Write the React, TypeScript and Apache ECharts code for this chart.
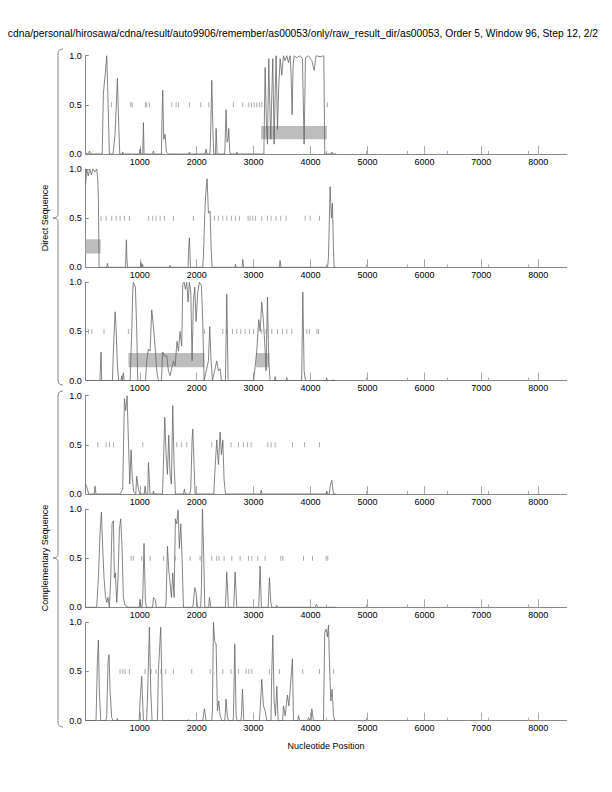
import React, { useEffect, useRef } from "react";
import * as echarts from "echarts";

const TITLE =
  "cdna/personal/hirosawa/cdna/result/auto9906/remember/as00053/only/raw_result_dir/as00053, Order 5, Window 96, Step 12, 2/2";
const X_LABEL = "Nucleotide Position";
const GROUP_LABELS = ["Direct Sequence", "Complementary Sequence"];
const X_TICKS = [1000, 2000, 3000, 4000, 5000, 6000, 7000, 8000];
const X_MINOR_TICKS = [4268, 4980, 5692, 6404, 7116, 7828];
const Y_TICKS = [0, 0.5, 1.0];
const X_MIN = 50;
const X_MAX = 8500;

const signal1 = [
  [50, 0.01], [100, 0], [115, 0.03], [140, 0], [340, 0], [361, 0.62], [396, 0.83], [419, 1.0], [435, 0.7], [466, 0],
  [530, 0], [566, 0.2], [607, 0.77], [630, 0.3], [648, 0], [690, 0], [700, 0.02], [710, 0], [990, 0], [1005, 0.05],
  [1020, 0], [1052, 0], [1064, 0.32], [1075, 0], [1225, 0], [1239, 0.03], [1255, 0], [1380, 0], [1392, 0.4],
  [1403, 0.65], [1421, 0.15], [1445, 0.2], [1468, 0.02], [1500, 0], [1860, 0], [1872, 0.02], [1885, 0], [2150, 0],
  [2165, 0.05], [2180, 0], [2230, 0], [2241, 0.1], [2265, 0.75], [2282, 0.3], [2300, 0], [2330, 0], [2341, 0.26],
  [2358, 0], [2493, 0], [2516, 0.45], [2534, 0.12], [2552, 0.15], [2563, 0.26], [2581, 0.02], [2600, 0], [2690, 0],
  [2704, 0.02], [2720, 0], [3180, 0], [3202, 0.88], [3225, 0.3], [3243, 0.1], [3266, 0.97], [3284, 0.5], [3302, 0.15],
  [3319, 0.6], [3337, 0.97], [3360, 0.1], [3378, 0.6], [3395, 1.0], [3419, 0.25], [3442, 0.7], [3466, 0.97],
  [3495, 0.8], [3524, 1.0], [3553, 0.95], [3583, 1.0], [3612, 0.93], [3641, 1.0], [3659, 0.8], [3676, 0.4],
  [3694, 0.9], [3711, 1.0], [3758, 0.98], [3817, 1.0], [3858, 0.97], [3887, 0.1], [3911, 0.98], [3963, 1.0],
  [4022, 0.95], [4063, 0.85], [4098, 1.0], [4168, 0.99], [4233, 1.0], [4250, 0], [4360, 0], [4373, 0.02], [4390, 0],
  [4450, 0],
];
const signal2 = [
  [50, 0.85], [68, 1.0], [95, 0.93], [120, 1.0], [150, 0.94], [175, 1.0], [210, 0.97], [244, 1.0], [261, 0.9],
  [273, 0.7], [285, 0], [420, 0], [431, 0.04], [445, 0], [750, 0], [765, 0.28], [775, 0.07], [785, 0], [1010, 0],
  [1020, 0.05], [1035, 0], [1045, 0], [1050, 0.03], [1060, 0], [1520, 0], [1530, 0.02], [1545, 0], [1850, 0],
  [1855, 0.15], [1872, 0.3], [1890, 0], [2105, 0], [2118, 0.1], [2142, 0.55], [2159, 0.75], [2183, 0.9],
  [2206, 0.55], [2235, 0.57], [2253, 0.2], [2270, 0], [2670, 0], [2680, 0.03], [2690, 0], [2795, 0], [2809, 0.08],
  [2825, 0], [3450, 0], [3465, 0.07], [3480, 0], [4300, 0], [4315, 0.1], [4344, 0.82], [4367, 0.5], [4385, 0.65],
  [4402, 0.2], [4414, 0], [4450, 0],
];
const signal3 = [
  [50, 0], [300, 0], [320, 0.29], [330, 0], [520, 0], [536, 0.3], [566, 0.7], [583, 0.55], [607, 0.15], [630, 0],
  [670, 0], [683, 0.05], [695, 0], [705, 0], [712, 0.08], [725, 0], [830, 0], [859, 0.5], [876, 0.9], [888, 1.0],
  [923, 0.95], [947, 0.5], [964, 0], [1100, 0], [1122, 0.2], [1152, 0.32], [1181, 0.3], [1210, 0.72], [1240, 0.55],
  [1269, 0.35], [1298, 0.1], [1327, 0], [1380, 0], [1403, 0.29], [1433, 0.25], [1474, 0.25], [1503, 0.1],
  [1532, 0.05], [1591, 0.2], [1620, 0.15], [1655, 0.4], [1679, 0.3], [1708, 0.5], [1737, 0.35], [1755, 0.98],
  [1778, 1.0], [1802, 0.93], [1825, 1.0], [1849, 0.8], [1872, 1.0], [1896, 0.9], [1919, 0.2], [1942, 0.8],
  [1966, 0.95], [1989, 0.6], [2019, 0.9], [2048, 1.0], [2083, 0.97], [2106, 0.6], [2130, 0], [2206, 0.2],
  [2229, 0.55], [2253, 0.2], [2276, 0], [2352, 0.2], [2382, 0.1], [2411, 0.12], [2434, 0], [2505, 0], [2528, 0.88],
  [2552, 0], [3000, 0], [3055, 0.3], [3090, 0.62], [3114, 0.5], [3143, 0.8], [3173, 0.6], [3202, 0.3], [3219, 0.1],
  [3243, 0.85], [3266, 0.2], [3290, 0], [3365, 0], [3378, 0.04], [3390, 0], [3570, 0], [3583, 0.03], [3595, 0],
  [3840, 0], [3846, 0.1], [3864, 0.9], [3887, 0.1], [3911, 0], [4270, 0], [4285, 0.02], [4300, 0], [4390, 0],
  [4400, 0.01], [4410, 0], [4450, 0],
];
const signal4 = [
  [50, 0.1], [80, 0.05], [103, 0], [200, 0], [214, 0.08], [230, 0], [650, 0], [700, 0.05], [730, 0.97], [753, 0.85],
  [777, 1.0], [800, 0.55], [824, 0.1], [847, 0.45], [870, 0.15], [894, 0.02], [930, 0], [946, 0.18], [976, 0.05],
  [1000, 0], [1080, 0], [1093, 0.08], [1110, 0], [1140, 0], [1152, 0.32], [1181, 0], [1230, 0], [1240, 0.03],
  [1255, 0], [1400, 0], [1415, 0.3], [1439, 0.78], [1462, 0.4], [1486, 0.2], [1509, 0.6], [1532, 0.2], [1556, 0.1],
  [1579, 0.9], [1603, 0.3], [1626, 0], [1770, 0], [1784, 0.05], [1800, 0], [1880, 0], [1896, 0.05], [1919, 0.55],
  [1931, 0.66], [1954, 0.3], [1972, 0], [2300, 0], [2317, 0.2], [2352, 0.55], [2382, 0.3], [2411, 0.63],
  [2434, 0.4], [2458, 0.55], [2481, 0.15], [2505, 0], [3120, 0], [3132, 0.04], [3150, 0], [4270, 0], [4285, 0.03],
  [4300, 0], [4330, 0], [4344, 0.08], [4373, 0.14], [4403, 0], [4450, 0],
];
const signal5 = [
  [50, 0], [243, 0], [273, 0.3], [302, 0.75], [326, 0.97], [349, 0.6], [372, 0.3], [396, 0.12], [419, 0.05],
  [443, 0.1], [466, 0], [490, 0.3], [513, 0.85], [537, 0.88], [554, 0.3], [572, 0.35], [595, 0.05], [619, 0.3],
  [642, 0.8], [665, 0.9], [689, 0.6], [712, 0.1], [741, 0.02], [800, 0], [990, 0], [1005, 0.08], [1020, 0],
  [1040, 0], [1052, 0.1], [1075, 0.65], [1099, 0.05], [1120, 0], [1225, 0], [1240, 0.1], [1269, 0.08], [1290, 0],
  [1450, 0], [1462, 0.05], [1486, 0.62], [1509, 0.38], [1532, 0.25], [1556, 0.1], [1579, 0.35], [1603, 0.1],
  [1626, 0.9], [1650, 0.85], [1673, 0.99], [1696, 0.6], [1720, 0.85], [1743, 0.5], [1767, 0], [1930, 0],
  [1942, 0.05], [1966, 0.2], [1989, 0.15], [2013, 0], [2070, 0], [2083, 0.2], [2101, 1.0], [2124, 0.5], [2142, 0],
  [2210, 0], [2224, 0.1], [2247, 0], [2505, 0], [2528, 0.36], [2557, 0], [2650, 0], [2675, 0.36], [2704, 0],
  [3090, 0], [3114, 0.42], [3137, 0], [3255, 0], [3278, 0.3], [3302, 0.05], [3320, 0], [3395, 0], [3407, 0.02],
  [3420, 0], [4085, 0], [4100, 0.03], [4130, 0], [4450, 0],
];
const signal6 = [
  [50, 0], [232, 0], [255, 0.6], [273, 0.82], [290, 0.3], [314, 0], [405, 0], [419, 0.05], [443, 0.6], [460, 0.67],
  [478, 0.3], [507, 0.03], [530, 0], [595, 0], [607, 0.02], [620, 0], [990, 0], [1005, 0.2], [1034, 0.45],
  [1064, 0], [1120, 0], [1134, 0.2], [1169, 0.95], [1193, 0.3], [1216, 0], [1310, 0], [1327, 0.5], [1368, 0.95],
  [1403, 0], [1840, 0], [1855, 0.01], [1870, 0], [2105, 0], [2118, 0.05], [2136, 0.12], [2165, 0], [2265, 0],
  [2276, 0.1], [2294, 1.0], [2317, 0.8], [2341, 0.78], [2364, 0.1], [2388, 0.2], [2411, 0.05], [2440, 0],
  [2490, 0], [2499, 0.05], [2516, 0.22], [2540, 0.03], [2560, 0], [2635, 0], [2645, 0.03], [2669, 0.78],
  [2692, 0.05], [2710, 0], [2775, 0], [2786, 0.05], [2804, 0.32], [2827, 0], [3100, 0], [3114, 0.1], [3143, 0.42],
  [3173, 0.15], [3202, 0.1], [3231, 0], [3305, 0], [3319, 0.5], [3337, 0.87], [3360, 0.2], [3384, 0.05],
  [3407, 0.35], [3431, 0], [3510, 0], [3524, 0.15], [3553, 0.05], [3594, 0.26], [3618, 0.15], [3641, 0.3],
  [3665, 0.5], [3682, 0.63], [3700, 0], [3775, 0], [3788, 0.05], [3810, 0], [3950, 0], [3963, 0.03], [3990, 0],
  [4010, 0], [4022, 0.12], [4051, 0], [4227, 0], [4250, 0.9], [4274, 0.93], [4297, 0.85], [4315, 0.97],
  [4332, 0.6], [4356, 0.2], [4379, 0.32], [4403, 0.05], [4426, 0], [4450, 0],
];

const dashes1 = [501, 841, 865, 1099, 1122, 1169, 1562, 1638, 1679, 1872, 2071, 2212, 2645, 2809, 2915, 2962, 3009, 3055, 3102, 3143, 4297];
const dashes2 = [320, 408, 507, 584, 654, 730, 818, 1157, 1228, 1286, 1357, 1433, 1591, 1942, 2311, 2382, 2458, 2528, 2610, 2681, 2751, 2903, 2938, 2985, 3032, 3143, 3243, 3307, 3395, 3477, 3571, 3905, 3993, 4157];
const dashes3 = [97, 156, 372, 800, 2136, 2458, 2528, 2628, 2704, 2774, 2850, 2927, 2997, 3143, 3219, 3319, 3419, 3507, 3583, 3671, 3934, 3981, 4110, 4139];
const dashes4 = [261, 408, 466, 537, 1052, 1650, 1737, 1825, 2265, 2458, 2604, 2733, 2821, 2891, 2956, 3249, 3307, 3378, 3683, 3893, 4157];
const dashes5 = [847, 888, 1034, 1181, 1415, 1620, 1884, 2060, 2265, 2352, 2393, 2481, 2616, 2763, 2909, 2968, 3073, 3202, 3477, 3512, 3876, 4034, 4274, 4303];
const dashes6 = [654, 701, 742, 818, 1093, 1199, 1286, 1374, 1456, 1591, 1913, 2235, 2458, 2604, 2733, 2868, 2915, 2968, 3278, 3454, 3864, 4157, 4403];

// [xStart, xEnd, yLow, yHigh]
const boxes1 = [[3132, 4286, 0.15, 0.285]];
const boxes2 = [[50, 314, 0.14, 0.285]];
const boxes3 = [[800, 2136, 0.135, 0.28], [3044, 3278, 0.135, 0.28]];
const boxes4: number[][] = [];
const boxes5: number[][] = [];
const boxes6: number[][] = [];

const SIGNALS = [signal1, signal2, signal3, signal4, signal5, signal6];
const DASHES = [dashes1, dashes2, dashes3, dashes4, dashes5, dashes6];
const BOXES = [boxes1, boxes2, boxes3, boxes4, boxes5, boxes6];

const FONT = '"Liberation Sans", Arial, Helvetica, sans-serif';

function bracePath(y0: number, ym: number, y1: number) {
  return `M63 ${y0} Q58 ${y0} 58 ${y0 + 5} L58 ${ym - 4} Q58 ${ym} 53 ${ym} Q58 ${ym} 58 ${ym + 4} L58 ${y1 - 5} Q58 ${y1} 63 ${y1}`;
}

export default function App() {
  const ref = useRef<HTMLDivElement>(null);
  useEffect(() => {
    if (!ref.current) return;
    echarts.graphic.registerShape("braceTop", echarts.graphic.extendPath(bracePath(49, 218, 385), {}));
    echarts.graphic.registerShape("braceBot", echarts.graphic.extendPath(bracePath(391, 558, 727), {}));
    const chart = echarts.init(ref.current, undefined, { renderer: "svg" });
    const left = 85.7;
    const width = 481;
    const height = 98.3;
    const tops = [55.7, 169, 282.3, 395.7, 509, 622.3];
    const grids: any[] = [];
    const xAxes: any[] = [];
    const yAxes: any[] = [];
    const series: any[] = [];
    tops.forEach((top, i) => {
      grids.push({ left, top, width, height, containLabel: false });
      xAxes.push({
        gridIndex: i,
        type: "value",
        min: X_MIN,
        max: X_MAX,
        axisLine: { onZero: false, lineStyle: { color: "#888", width: 1 } },
        axisTick: { inside: true, length: 8, customValues: X_TICKS, lineStyle: { color: "#aaa" } },
        axisLabel: {
          customValues: X_TICKS,
          formatter: (v: number) => String(v),
          fontSize: 9,
          margin: 3,
          color: "#000",
          fontFamily: FONT,
        },
        splitLine: { show: false },
      });
      xAxes.push({
        gridIndex: i,
        type: "value",
        position: "bottom",
        min: X_MIN,
        max: X_MAX,
        axisLine: { show: false },
        axisTick: { inside: true, length: 3, customValues: X_MINOR_TICKS, lineStyle: { color: "#aaa" } },
        axisLabel: { show: false },
        splitLine: { show: false },
      });
      yAxes.push({
        gridIndex: i,
        type: "value",
        min: 0,
        max: 1,
        axisLine: { show: true, lineStyle: { color: "#888", width: 1 } },
        axisTick: { show: true, inside: true, length: 3, customValues: Y_TICKS, lineStyle: { color: "#888" } },
        axisLabel: {
          customValues: Y_TICKS,
          formatter: (v: number) => v.toFixed(1),
          fontSize: 9,
          margin: 4,
          color: "#000",
          fontFamily: FONT,
        },
        splitLine: { show: false },
      });
      series.push({
        type: "custom",
        xAxisIndex: i * 2,
        yAxisIndex: i,
        z: 1,
        encode: { x: [0, 1], y: [2, 3] },
        data: BOXES[i],
        renderItem: (params: any, api: any) => {
          const p0 = api.coord([api.value(0), api.value(3)]);
          const p1 = api.coord([api.value(1), api.value(2)]);
          return {
            type: "rect",
            shape: { x: p0[0], y: p0[1], width: p1[0] - p0[0], height: p1[1] - p0[1] },
            style: { fill: "#bdbdbd" },
          };
        },
      });
      series.push({
        type: "scatter",
        xAxisIndex: i * 2,
        yAxisIndex: i,
        z: 2,
        symbol: "rect",
        symbolSize: [1, 5],
        itemStyle: { color: "#999" },
        data: DASHES[i].map((x) => [x, 0.5]),
      });
      series.push({
        type: "line",
        xAxisIndex: i * 2,
        yAxisIndex: i,
        z: 3,
        showSymbol: false,
        symbol: "none",
        lineStyle: { color: "#666", width: 0.8 },
        data: SIGNALS[i],
      });
    });

    chart.setOption({
      animation: false,
      backgroundColor: "#fff",
      grid: grids,
      xAxis: xAxes,
      yAxis: yAxes,
      series,
      graphic: [
        {
          type: "text",
          style: { text: TITLE, x: 598, y: 33, textAlign: "right", textVerticalAlign: "middle", font: `10.3px ${FONT}`, fill: "#000" },
        },
        { type: "braceTop", x: 0, y: 0, style: { stroke: "#888", fill: "none", lineWidth: 1 } },
        { type: "braceBot", x: 0, y: 0, style: { stroke: "#888", fill: "none", lineWidth: 1 } },
        {
          type: "text",
          x: 45,
          y: 218,
          rotation: Math.PI / 2,
          style: { text: GROUP_LABELS[0], textAlign: "center", textVerticalAlign: "middle", font: `9px ${FONT}`, fill: "#000" },
        },
        {
          type: "text",
          x: 45,
          y: 558,
          rotation: Math.PI / 2,
          style: { text: GROUP_LABELS[1], textAlign: "center", textVerticalAlign: "middle", font: `9px ${FONT}`, fill: "#000" },
        },
        {
          type: "text",
          style: { text: X_LABEL, x: 326, y: 746, textAlign: "center", textVerticalAlign: "middle", font: `9px ${FONT}`, fill: "#000" },
        },
      ],
    });
    return () => chart.dispose();
  }, []);
  return <div ref={ref} style={{ position: "absolute", left: 0, top: 0, width: 612, height: 792 }} />;
}
